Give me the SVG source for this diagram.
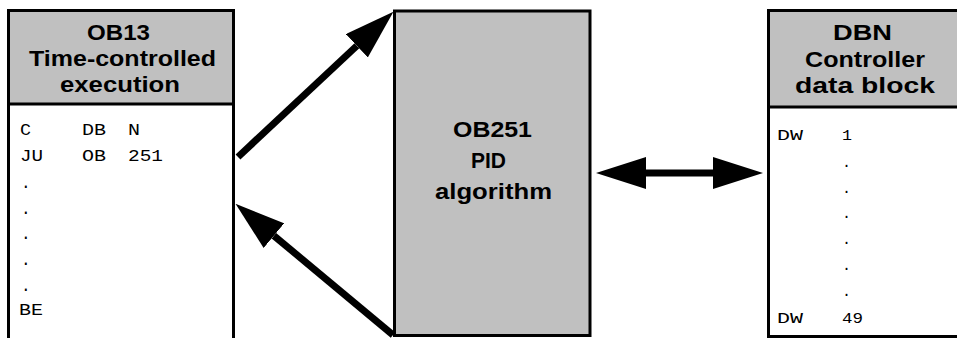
<svg xmlns="http://www.w3.org/2000/svg" width="957" height="338" viewBox="0 0 957 338">
<style>
.hdr{fill:#c0c0c0;stroke:#000;stroke-width:3}
.bd{fill:none;stroke:#000;stroke-width:3}
.t{font-family:"Liberation Sans",Arial,sans-serif;font-weight:bold;font-size:22px;fill:#000}
.m{font-family:"Liberation Mono","Courier New",monospace;font-size:16px;fill:#000}
.ms{font-family:"Liberation Mono","Courier New",monospace;font-size:15px;fill:#000}
.arr{stroke:#000;stroke-width:7;fill:none;marker-end:url(#ah)}
</style>
<defs>
<marker id="ah" viewBox="0 -16 50 32" refX="0" refY="0" markerWidth="50" markerHeight="32" markerUnits="userSpaceOnUse" orient="auto-start-reverse">
<path d="M0,-16 L50,0 L0,16 z" fill="#000"/>
</marker>
</defs>
<rect width="957" height="338" fill="#fff"/>
<g id="ob13">
<rect class="hdr" x="8.5" y="10.5" width="225" height="93.5"/>
<path class="bd" d="M8.5,104 V338 M233.5,104 V338"/>
<text class="t" x="87" y="40" textLength="63" lengthAdjust="spacingAndGlyphs">OB13</text>
<text class="t" x="29" y="66" textLength="187" lengthAdjust="spacingAndGlyphs">Time-controlled</text>
<text class="t" x="60" y="92" textLength="120" lengthAdjust="spacingAndGlyphs">execution</text>
<text class="m" x="20" y="135" textLength="11" lengthAdjust="spacingAndGlyphs">C</text>
<text class="m" x="82" y="135" textLength="24" lengthAdjust="spacingAndGlyphs">DB</text>
<text class="m" x="128" y="135" textLength="12" lengthAdjust="spacingAndGlyphs">N</text>
<text class="m" x="20" y="161" textLength="23" lengthAdjust="spacingAndGlyphs">JU</text>
<text class="m" x="82" y="161" textLength="24" lengthAdjust="spacingAndGlyphs">OB</text>
<text class="m" x="128" y="161" textLength="35" lengthAdjust="spacingAndGlyphs">251</text>
<text class="m" x="21" y="188">.</text>
<text class="m" x="21" y="214">.</text>
<text class="m" x="21" y="239">.</text>
<text class="m" x="21" y="265">.</text>
<text class="m" x="21" y="291">.</text>
<text class="m" x="19" y="315" textLength="24" lengthAdjust="spacingAndGlyphs">BE</text>
</g>
<g id="ob251">
<rect class="hdr" x="394.5" y="11" width="195.5" height="324.5"/>
<text class="t" x="453" y="137" textLength="79" lengthAdjust="spacingAndGlyphs">OB251</text>
<text class="t" x="471" y="168" textLength="35" lengthAdjust="spacingAndGlyphs">PID</text>
<text class="t" x="435" y="199" textLength="117" lengthAdjust="spacingAndGlyphs">algorithm</text>
</g>
<g id="dbn">
<path class="hdr" d="M960,10.5 H768.5 V107 H960"/>
<path class="bd" d="M768.5,107 V336.5 H960"/>
<text class="t" x="833" y="40" textLength="59" lengthAdjust="spacingAndGlyphs">DBN</text>
<text class="t" x="805" y="67" textLength="120" lengthAdjust="spacingAndGlyphs">Controller</text>
<text class="t" x="795" y="93" textLength="140" lengthAdjust="spacingAndGlyphs">data block</text>
<text class="ms" x="777" y="140" textLength="26" lengthAdjust="spacingAndGlyphs">DW</text>
<text class="ms" x="842" y="140" textLength="10" lengthAdjust="spacingAndGlyphs">1</text>
<text class="ms" x="842" y="167">.</text>
<text class="ms" x="842" y="193">.</text>
<text class="ms" x="842" y="218">.</text>
<text class="ms" x="842" y="244">.</text>
<text class="ms" x="842" y="270">.</text>
<text class="ms" x="842" y="296">.</text>
<text class="ms" x="777" y="323" textLength="26" lengthAdjust="spacingAndGlyphs">DW</text>
<text class="ms" x="842" y="323" textLength="21" lengthAdjust="spacingAndGlyphs">49</text>
</g>
<g id="connectors">
<line class="arr" x1="238" y1="157" x2="356.9" y2="45.8"/>
<line class="arr" x1="393" y1="335" x2="273.9" y2="235.7"/>
<line class="arr" x1="646" y1="173" x2="713" y2="173" marker-start="url(#ah)"/>
</g>
</svg>
